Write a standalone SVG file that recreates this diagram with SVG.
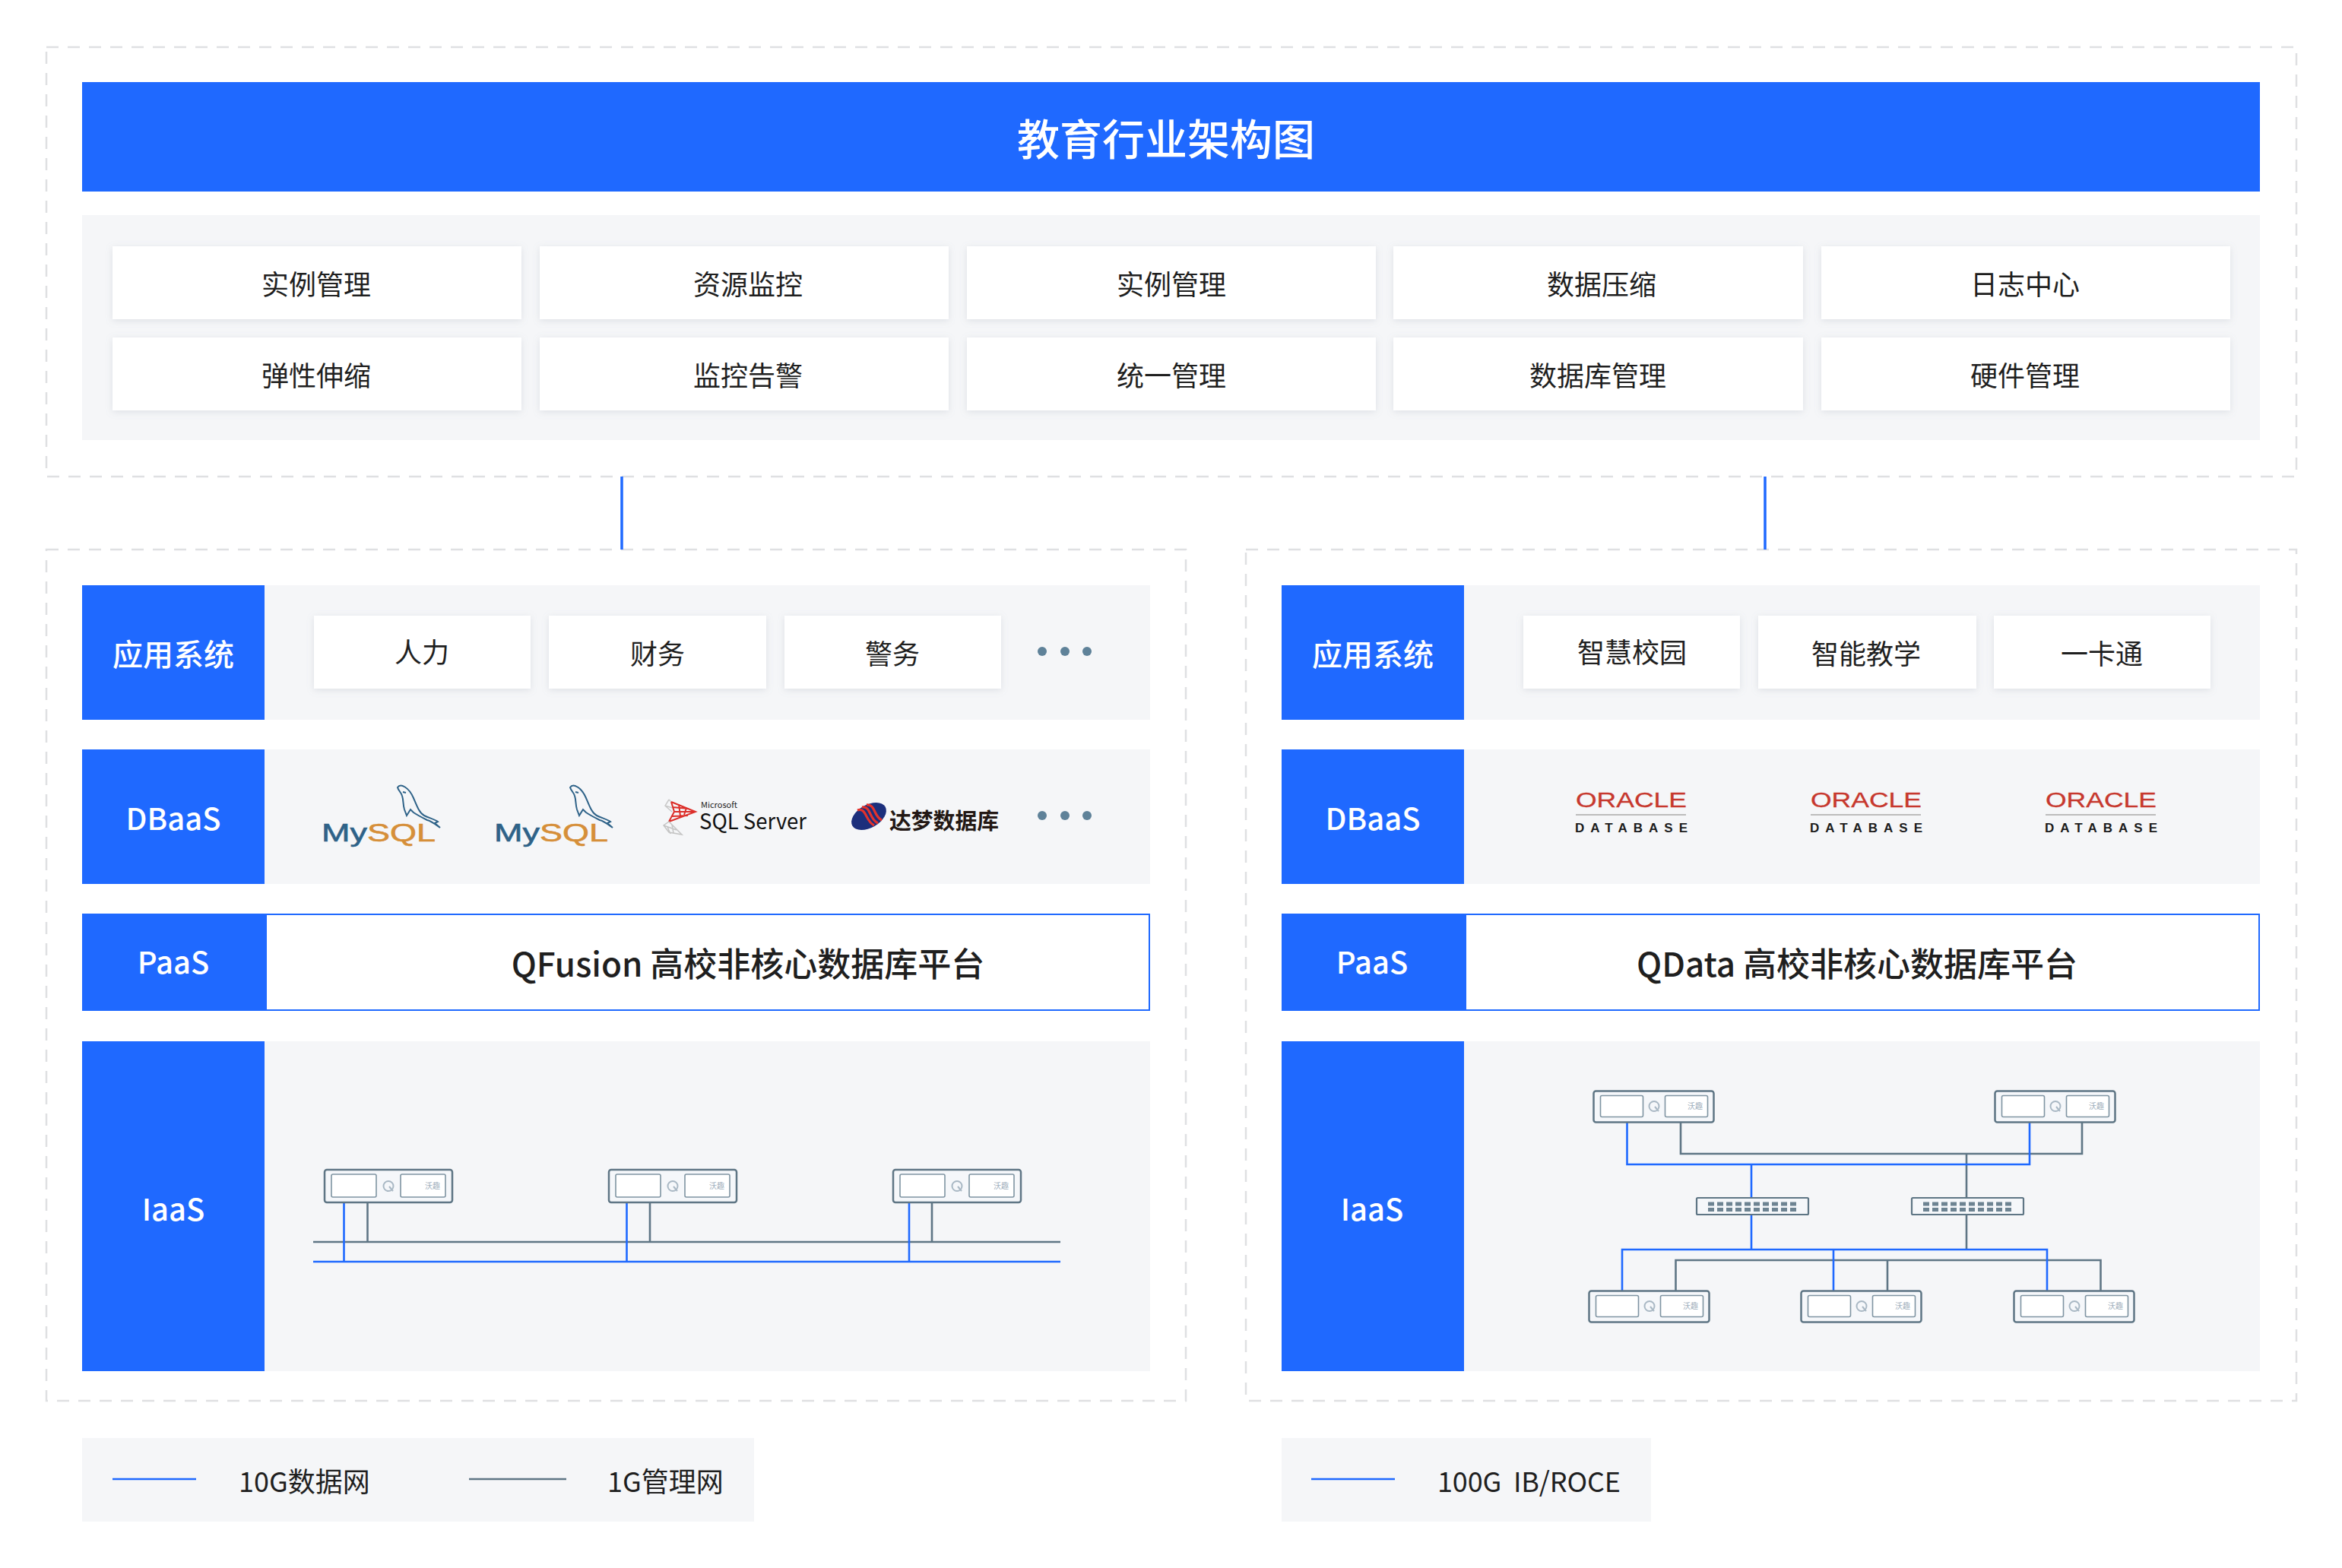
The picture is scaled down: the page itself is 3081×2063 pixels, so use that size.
<svg xmlns="http://www.w3.org/2000/svg" width="3081" height="2063" viewBox="0 0 3081 2063">
<defs>
<filter id="sh" x="-5%" y="-20%" width="110%" height="140%"><feDropShadow dx="0" dy="2" stdDeviation="5" flood-color="#8a93a3" flood-opacity="0.22"/></filter>
<g id="srvB">
<rect x="0.5" y="0.5" width="158" height="41" rx="3" fill="#f5f7fa" stroke="#5f7685" stroke-width="2.5"/>
<rect x="9.500" y="6.500" width="56" height="28" rx="2" fill="#fff" stroke="#7f94a2" stroke-width="1.6"/>
<rect x="94.500" y="6.500" width="56" height="28" rx="2" fill="#fff" stroke="#7f94a2" stroke-width="1.6"/>
<circle cx="80" cy="20.500" r="6.500" fill="none" stroke="#a9b8c4" stroke-width="2"/>
<path d="M81 21l5 6" stroke="#a9b8c4" stroke-width="2" fill="none"/>
</g>
<g id="srvA">
<rect x="1" y="1" width="168" height="43" rx="3" fill="#f5f7fa" stroke="#5f7685" stroke-width="2.5"/>
<rect x="10" y="7" width="59" height="30" rx="2" fill="#fff" stroke="#7f94a2" stroke-width="1.6"/>
<rect x="101" y="7" width="59" height="30" rx="2" fill="#fff" stroke="#7f94a2" stroke-width="1.6"/>
<circle cx="85" cy="22.500" r="6.500" fill="none" stroke="#a9b8c4" stroke-width="2"/>
<path d="M86 23l5 6" stroke="#a9b8c4" stroke-width="2" fill="none"/>
</g>
<g id="sw">
<rect x="1" y="1" width="147" height="22" rx="1.500" fill="#f5f7fa" stroke="#5f7685" stroke-width="2.2"/>
<path d="M16 9h8M28 9h8M40 9h8M52 9h8M64 9h8M76 9h8M88 9h8M100 9h8M112 9h8M124 9h8M16 16.500h8M28 16.500h8M40 16.500h8M52 16.500h8M64 16.500h8M76 16.500h8M88 16.500h8M100 16.500h8M112 16.500h8M124 16.500h8" stroke="#6d8392" stroke-width="5" fill="none"/>
</g>
<g id="dolphin">
<path d="M1 3C5-3 16 3 22 17C27 29 30 37 36 40C42 43 50 45 54 48L50 50L57 56C50 51 45 47 40 46C34 43 28 40 22 36L18 32L13 40L10 32C8 26 9 20 7 14C6 10 2 7 1 3ZM8 9L12 10" fill="none" stroke="#2e6288" stroke-width="2"/>
</g>
</defs>
<style>
text{font-family:"Noto Sans CJK SC","Noto Sans",sans-serif}
.dash{fill:none;stroke:#dfe0e2;stroke-width:2.5;stroke-dasharray:16 12}
.panel{fill:#f5f6f8}
.blue{fill:#1f69ff}
.card{fill:#fff;filter:url(#sh)}
.ct{font-size:36px;fill:#1f1f1f;text-anchor:middle}
.lb{font-size:40px;font-weight:500;fill:#fff;text-anchor:middle}
.pf{font-size:44px;font-weight:500;fill:#1f1f1f;text-anchor:middle}
.lg{font-size:36px;fill:#1f1f1f}
.bl{stroke:#1f69ff;stroke-width:2.6;fill:none}
.gl{stroke:#5f7685;stroke-width:2.6;fill:none}
.dot{fill:#5f8299}
.wq{font-size:10px;fill:#9fb0bd;text-anchor:middle}
.ora{font-family:"Liberation Sans",sans-serif;font-size:27px;fill:#c7382e;stroke:#c7382e;stroke-width:.3px}
.odb{font-family:"Liberation Sans",sans-serif;font-size:17px;font-weight:700;fill:#1c1c1c}
.my{font-family:"Liberation Sans",sans-serif;font-size:33px;stroke-width:.6px}
.frame{fill:#fff;stroke:#1f69ff;stroke-width:2px}
</style>
<rect width="3081" height="2063" fill="#fff"/>

<g id="top">
<rect class="dash" x="61" y="62" width="2960" height="565"/>
<rect class="blue" x="108" y="108" width="2865" height="144"/>
<text x="1534" y="204" font-size="56" font-weight="500" fill="#fff" text-anchor="middle">教育行业架构图</text>
<rect class="panel" x="108" y="283" width="2865" height="296"/>
</g>
<g id="c11"><rect class="card" x="148" y="324" width="538" height="96"/><text class="ct" x="416" y="388">实例管理</text></g>
<g id="c12"><rect class="card" x="710" y="324" width="538" height="96"/><text class="ct" x="984" y="388">资源监控</text></g>
<g id="c13"><rect class="card" x="1272" y="324" width="538" height="96"/><text class="ct" x="1541" y="388">实例管理</text></g>
<g id="c14"><rect class="card" x="1833" y="324" width="539" height="96"/><text class="ct" x="2107" y="388">数据压缩</text></g>
<g id="c15"><rect class="card" x="2396" y="324" width="538" height="96"/><text class="ct" x="2664" y="388">日志中心</text></g>
<g id="c21"><rect class="card" x="148" y="444" width="538" height="96"/><text class="ct" x="416" y="508">弹性伸缩</text></g>
<g id="c22"><rect class="card" x="710" y="444" width="538" height="96"/><text class="ct" x="984" y="508">监控告警</text></g>
<g id="c23"><rect class="card" x="1272" y="444" width="538" height="96"/><text class="ct" x="1541" y="508">统一管理</text></g>
<g id="c24"><rect class="card" x="1833" y="444" width="539" height="96"/><text class="ct" x="2102" y="508">数据库管理</text></g>
<g id="c25"><rect class="card" x="2396" y="444" width="538" height="96"/><text class="ct" x="2664" y="508">硬件管理</text></g>

<g id="left-stack">
<rect class="dash" x="61" y="723" width="1499" height="1120"/>
<rect class="panel" x="108" y="770" width="1405" height="177"/>
<rect class="blue" x="108" y="770" width="240" height="177"/>
<text class="lb" x="228" y="876">应用系统</text>
<rect class="panel" x="108" y="986" width="1405" height="177"/>
<rect class="blue" x="108" y="986" width="240" height="177"/>
<text class="lb" x="228" y="1092">DBaaS</text>
<rect class="frame" x="350" y="1203" width="1162" height="126"/>
<rect class="blue" x="108" y="1202" width="241" height="128"/>
<text class="lb" x="228" y="1281">PaaS</text>
<text class="pf" x="984" y="1285">QFusion 高校非核心数据库平台</text>
<rect class="panel" x="108" y="1370" width="1405" height="434"/>
<rect class="blue" x="108" y="1370" width="240" height="434"/>
<text class="lb" x="228" y="1606">IaaS</text>
</g>
<g id="a1"><rect class="card" x="413" y="810" width="285" height="96"/><text class="ct" x="555" y="872">人力</text></g>
<g id="a2"><rect class="card" x="722" y="810" width="286" height="96"/><text class="ct" x="865" y="874">财务</text></g>
<g id="a3"><rect class="card" x="1032" y="810" width="285" height="96"/><text class="ct" x="1174" y="874">警务</text></g>
<g id="dots1"><circle class="dot" cx="1371" cy="857" r="6"/><circle class="dot" cx="1401" cy="857" r="6"/><circle class="dot" cx="1430" cy="857" r="6"/></g>

<g id="mysql1"><use href="#dolphin" x="522" y="1033"/><text class="my" x="423" y="1107" textLength="150" lengthAdjust="spacingAndGlyphs"><tspan fill="#2e6288" stroke="#2e6288">My</tspan><tspan fill="#d68f39" stroke="#d68f39">SQL</tspan></text></g>
<g id="mysql2"><use href="#dolphin" x="749" y="1033"/><text class="my" x="650" y="1107" textLength="150" lengthAdjust="spacingAndGlyphs"><tspan fill="#2e6288" stroke="#2e6288">My</tspan><tspan fill="#d68f39" stroke="#d68f39">SQL</tspan></text></g>
<g id="sqlserver">
<path d="M880 1052L884 1056M880 1052L875 1060L884 1068M875 1060L885 1063" fill="none" stroke="#c9c9c9" stroke-width="1.5"/>
<path d="M883 1055L915 1068L880 1081M883 1055L887 1068L880 1081M887 1068L915 1068M893 1058L895 1074M903 1063L900 1072M885 1062L906 1064M884 1074L905 1073" fill="none" stroke="#dc2f2a" stroke-width="2"/>
<path d="M880 1081L873 1086L880 1095L897 1098L880 1081M873 1086L890 1092M878 1088L882 1097M884 1085L886 1096" fill="none" stroke="#c4c4c4" stroke-width="1.5"/>
<text x="922" y="1062.700" font-family="'Liberation Sans',sans-serif" font-size="11" fill="#222" textLength="48" lengthAdjust="spacingAndGlyphs">Microsoft</text>
<text x="920" y="1091" font-family="'Liberation Sans',sans-serif" font-size="29" fill="#111" textLength="141" lengthAdjust="spacingAndGlyphs">SQL Server</text>
</g>
<g id="dameng">
<ellipse cx="1143" cy="1074" rx="25" ry="15" transform="rotate(-30 1143 1074)" fill="#1c2f7c"/>
<path d="M1128 1066C1140 1062 1138 1080 1150 1086M1134 1062C1146 1060 1143 1078 1155 1083M1140 1059C1152 1058 1149 1074 1160 1079" stroke="#e3322c" stroke-width="3.200" fill="none"/>
<text x="1170" y="1091" font-size="29" font-weight="700" fill="#231815" textLength="144" lengthAdjust="spacingAndGlyphs">达梦数据库</text>
</g>
<g id="dots2"><circle class="dot" cx="1371" cy="1073" r="6"/><circle class="dot" cx="1401" cy="1073" r="6"/><circle class="dot" cx="1430" cy="1073" r="6"/></g>

<g id="right-stack">
<rect class="dash" x="1639" y="723" width="1382" height="1120"/>
<rect class="panel" x="1686" y="770" width="1287" height="177"/>
<rect class="blue" x="1686" y="770" width="240" height="177"/>
<text class="lb" x="1806" y="876">应用系统</text>
<rect class="panel" x="1686" y="986" width="1287" height="177"/>
<rect class="blue" x="1686" y="986" width="240" height="177"/>
<text class="lb" x="1806" y="1092">DBaaS</text>
<rect class="frame" x="1928" y="1203" width="1044" height="126"/>
<rect class="blue" x="1686" y="1202" width="241" height="128"/>
<text class="lb" x="1805" y="1281">PaaS</text>
<text class="pf" x="2443" y="1285">QData 高校非核心数据库平台</text>
<rect class="panel" x="1686" y="1370" width="1287" height="434"/>
<rect class="blue" x="1686" y="1370" width="240" height="434"/>
<text class="lb" x="1805" y="1606">IaaS</text>
</g>
<g id="b1"><rect class="card" x="2004" y="810" width="285" height="96"/><text class="ct" x="2147" y="872">智慧校园</text></g>
<g id="b2"><rect class="card" x="2313" y="810" width="287" height="96"/><text class="ct" x="2455" y="874">智能教学</text></g>
<g id="b3"><rect class="card" x="2623" y="810" width="285" height="96"/><text class="ct" x="2765" y="874">一卡通</text></g>

<g id="ora1"><text class="ora" x="2073" y="1062" textLength="146" lengthAdjust="spacingAndGlyphs">ORACLE</text><path d="M2073 1072h145" stroke="#a8a8a8" stroke-width="1.5"/><text class="odb" x="2072" y="1094.500" textLength="148">DATABASE</text></g>
<g id="ora2"><text class="ora" x="2382" y="1062" textLength="146" lengthAdjust="spacingAndGlyphs">ORACLE</text><path d="M2382 1072h145" stroke="#a8a8a8" stroke-width="1.5"/><text class="odb" x="2381" y="1094.500" textLength="148">DATABASE</text></g>
<g id="ora3"><text class="ora" x="2691" y="1062" textLength="146" lengthAdjust="spacingAndGlyphs">ORACLE</text><path d="M2691 1072h145" stroke="#a8a8a8" stroke-width="1.5"/><text class="odb" x="2690" y="1094.500" textLength="148">DATABASE</text></g>

<g id="connectors">
<path class="bl" d="M818 627V723M2322 627V723" style="stroke-width:3.500"/>
<path class="gl" d="M483.500 1582V1634M855 1582V1634M1226 1582V1634M412 1634H1395"/>
<path class="bl" d="M452.500 1582V1660M824.500 1582V1660M1196 1582V1660M412 1660H1395"/>
<path class="gl" d="M2211 1476V1518H2739V1476M2587 1518V1575M2587 1599V1644M2204.500 1699V1658H2763.500V1699M2483 1658V1699"/>
<path class="bl" d="M2140.500 1476V1532H2670V1476M2304 1532V1575M2304 1599V1644M2134 1699V1644H2693V1699M2412 1644V1699"/>
</g>

<g id="s1"><use href="#srvA" x="426" y="1538"/><text class="wq" x="569" y="1564">沃趣</text></g>
<g id="s2"><use href="#srvA" x="800" y="1538"/><text class="wq" x="943" y="1564">沃趣</text></g>
<g id="s3"><use href="#srvA" x="1174" y="1538"/><text class="wq" x="1317" y="1564">沃趣</text></g>
<g id="t1"><use href="#srvB" x="2096" y="1435"/><text class="wq" x="2230" y="1459">沃趣</text></g>
<g id="t2"><use href="#srvB" x="2624" y="1435"/><text class="wq" x="2758" y="1459">沃趣</text></g>
<g id="sw1"><use href="#sw" x="2231" y="1575"/></g>
<g id="sw2"><use href="#sw" x="2514" y="1575"/></g>
<g id="u1"><use href="#srvB" x="2090" y="1698"/><text class="wq" x="2224" y="1722">沃趣</text></g>
<g id="u2"><use href="#srvB" x="2369" y="1698"/><text class="wq" x="2503" y="1722">沃趣</text></g>
<g id="u3"><use href="#srvB" x="2649" y="1698"/><text class="wq" x="2783" y="1722">沃趣</text></g>

<g id="legend-left">
<rect class="panel" x="108" y="1892" width="884" height="110"/>
<path class="bl" d="M148 1946H258"/>
<text class="lg" x="314" y="1963">10G数据网</text>
<path class="gl" d="M617 1946H745"/>
<text class="lg" x="799" y="1963">1G管理网</text>
</g>
<g id="legend-right">
<rect class="panel" x="1686" y="1892" width="486" height="110"/>
<path class="bl" d="M1725 1946H1835"/>
<text class="lg" x="1891" y="1963" textLength="241" xml:space="preserve">100G  IB/ROCE</text>
</g>
</svg>
